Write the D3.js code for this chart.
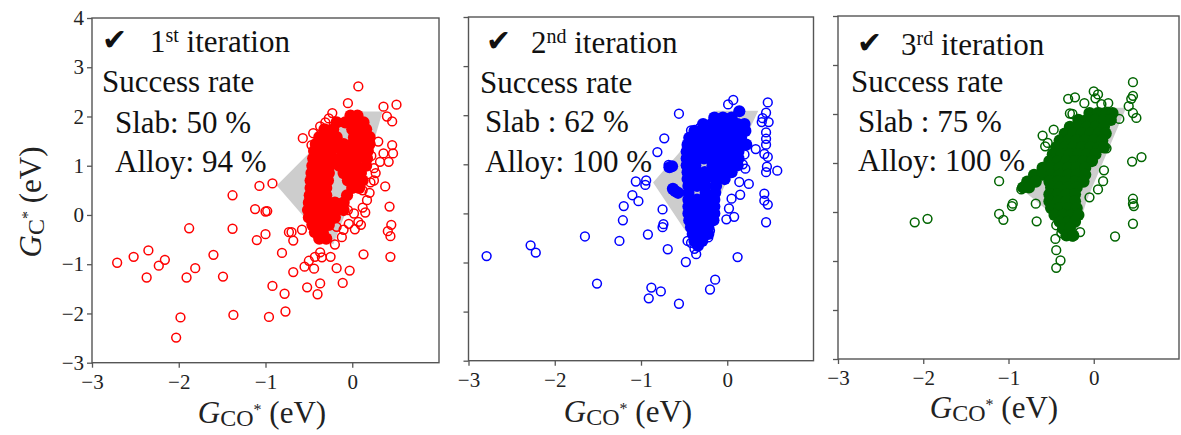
<!DOCTYPE html>
<html><head><meta charset="utf-8">
<script src="https://cdn.jsdelivr.net/npm/d3@7"></script>
<style>body{margin:0;background:#fff;} svg{display:block;}</style>
</head><body>
<svg id="c" width="1181" height="435"></svg>
<script>
const xTicks = [-3, -2, -1, 0];
const yTicks = [-3, -2, -1, 0, 1, 2, 3, 4];
const iterNums = ["1", "2", "3"];
const iterSups = ["st", "nd", "rd"];
const slabLabels = ["Slab: 50 %", "Slab : 62 %", "Slab : 75 %"];
const alloyLabels = ["Alloy: 94 %", "Alloy: 100 %", "Alloy: 100 %"];
const colors = ["#ff0000", "#0000ff", "#006400"];

const region1 = [[-0.87,0.6],[-0.02,2.1],[0.35,2.1],[0.25,1.5],[-0.22,-0.6],[-0.55,-0.05]];
const region2 = [[-0.86,0.63],[-0.13,2.09],[0.36,2.09],[0.2,1.5],[-0.33,-0.65],[-0.5,-0.32]];
const region3 = [[-0.87,0.5],[-0.03,2.13],[0.38,2.13],[-0.08,0.25],[-0.2,-0.42],[-0.45,-0.1]];

const open1 = [[-2.71,-0.97],[-2.52,-0.85],[-2.35,-0.72],[-2.37,-1.27],[-2.23,-1.03],[-2.16,-0.91],
[-1.88,-0.27],[-1.91,-1.27],[-1.81,-1.08],[-1.98,-2.08],[-2.03,-2.49],[-1.6,-0.81],[-1.49,-1.25],
[-1.38,0.40],[-1.38,-0.28],[-1.37,-2.03],[-1.07,0.59],[-0.92,0.64],[-1.12,0.12],[-1.0,0.07],[-0.98,0.08],
[-1.10,-0.51],[-1.0,-0.39],[-0.81,-0.77],[-0.96,-2.07],[-0.92,-1.44],[-0.78,-1.60],[-0.77,-1.96],
[-0.73,-0.35],[-0.70,-0.35],[-0.68,-0.52],[-0.68,-1.16],[-0.58,-0.30],[-0.55,-1.05],[-0.52,-1.47],
[-0.50,-0.93],[-0.44,-1.09],[-0.40,-1.61],[-0.37,-1.39],[-0.37,-0.76],[-0.43,-0.85],[-0.35,-0.86],
[-0.25,-0.85],[-0.18,-1.08],[-0.11,-1.38],[-0.03,-1.13],[0.13,-0.80],[0.44,-0.85],[0.44,-0.43],
[0.41,-0.33],[0.45,-0.2],[0.43,0.17],[0.38,0.58],[0.07,2.61],[-0.05,2.27],[0.36,2.2],[0.51,2.24],
[0.40,2.0],[0.46,1.90],[0.46,1.42],[0.47,1.25],[0.36,1.25],[0.30,1.49],[0.32,1.08],[0.42,1.08],
[0.27,0.85],[0.21,0.66],[0.17,0.30],[0.12,0.15],[-0.57,1.56],[-0.47,1.42],[-0.45,1.66],[-0.37,1.80],
[-0.27,1.96],[-0.23,2.07],[-0.31,1.88],[0.02,0.03],[0.07,-0.14],[-0.1,-0.3],[0.03,-0.29],[-0.04,-0.18],
[-0.18,-0.24],[0.2,0.45],[0.25,0.95],[0.22,1.2],[0.12,0.5],[-0.12,-0.45],[-0.2,-0.6],[0.15,0.05],
[0.25,0.7],[0.1,-0.2],[-0.05,0.1]];
const filled1 = [
[-0.02,2.02],[0.06,2.02],
[-0.18,1.88],[-0.08,1.88],[0.04,1.88],[0.13,1.88],
[-0.32,1.74],[-0.22,1.74],[0.0,1.74],[0.1,1.74],[0.16,1.74],
[-0.38,1.58],[-0.28,1.58],[-0.18,1.58],[0.02,1.58],[0.12,1.58],[0.2,1.58],
[-0.42,1.44],[-0.32,1.44],[-0.2,1.44],[-0.1,1.44],[0.0,1.44],[0.1,1.44],[0.2,1.44],
[-0.44,1.3],[-0.34,1.3],[-0.24,1.3],[-0.12,1.3],[-0.02,1.3],[0.08,1.3],[0.18,1.3],
[-0.45,1.15],[-0.35,1.15],[-0.25,1.15],[-0.14,1.15],[-0.04,1.15],[0.06,1.15],[0.17,1.15],
[-0.46,1.0],[-0.36,1.0],[-0.26,1.0],[-0.15,1.0],[-0.05,1.0],[0.05,1.0],[0.16,1.0],
[-0.47,0.85],[-0.37,0.85],[-0.27,0.85],[-0.1,0.85],[0.0,0.85],[0.1,0.85],
[-0.48,0.7],[-0.38,0.7],[-0.28,0.7],[-0.05,0.7],[0.05,0.7],[0.12,0.7],
[-0.48,0.55],[-0.38,0.55],[-0.3,0.55],[0.0,0.55],[0.08,0.55],
[-0.49,0.4],[-0.4,0.4],[-0.3,0.4],[-0.06,0.4],
[-0.5,0.25],[-0.4,0.25],[-0.3,0.25],[-0.2,0.25],[-0.1,0.25],
[-0.51,0.1],[-0.41,0.1],[-0.31,0.1],[-0.2,0.1],[-0.1,0.1],
[-0.5,-0.05],[-0.4,-0.05],[-0.3,-0.05],[-0.2,-0.05],
[-0.46,-0.2],[-0.37,-0.2],[-0.27,-0.2],
[-0.43,-0.35],[-0.34,-0.35],
[-0.38,-0.48],[-0.3,-0.48]];

const open2 = [[-2.79,-0.87],[-2.28,-0.65],[-2.22,-0.80],[-1.65,-0.47],[-1.51,-1.43],[-1.25,-0.56],
[-1.21,-0.14],[-1.20,0.15],[-1.10,0.37],[-1.03,0.25],[-1.06,0.65],[-0.94,0.67],[-0.95,0.58],[-0.92,-0.43],
[-0.88,-1.51],[-0.91,-1.73],[-0.77,-1.59],[-0.56,-1.84],[-0.75,0.08],[-0.74,-0.22],[-0.75,-0.28],
[-0.69,-0.73],[-0.81,1.25],[-0.73,1.53],[-0.56,2.03],[-0.68,0.99],[-0.48,-0.99],[-0.46,-0.56],
[-0.36,-0.83],[-0.22,-0.49],[-0.20,-1.55],[-0.14,-1.35],[0.12,-0.89],[-0.01,-0.12],[0.08,-0.07],
[0.02,0.10],[0.15,0.38],[0.14,0.64],[0.21,0.91],[0.07,2.31],[0.01,2.22],[0.47,2.26],[0.45,2.05],
[0.41,1.94],[0.48,1.86],[0.40,1.86],[0.45,1.52],[0.45,1.40],[0.33,1.31],[0.43,1.21],[0.47,1.15],
[0.58,0.87],[0.45,0.84],[0.43,0.40],[0.43,0.26],[0.47,0.18],[0.45,-0.18],[-0.42,1.69],[-0.32,1.74],
[-0.40,1.58],[-0.42,-0.6],[-0.38,-0.72],[0.2,1.2],[0.25,0.6],[0.05,0.3],[0.18,1.0],[0.45,1.65],
[0.46,0.95],[-0.2,-0.35]];
const filled2 = [
[0.14,2.08],
[-0.15,1.95],[-0.05,1.95],[0.05,1.95],
[-0.28,1.82],[-0.18,1.82],[-0.08,1.82],[0.02,1.82],[0.12,1.82],[0.2,1.82],
[-0.38,1.68],[-0.28,1.68],[-0.18,1.68],[-0.08,1.68],[0.02,1.68],[0.12,1.68],[0.21,1.68],
[-0.44,1.54],[-0.34,1.54],[-0.24,1.54],[-0.14,1.54],[-0.04,1.54],[0.06,1.54],[0.16,1.54],
[-0.46,1.4],[-0.36,1.4],[-0.26,1.4],[-0.16,1.4],[-0.06,1.4],[0.04,1.4],[0.14,1.4],[0.22,1.4],
[-0.47,1.26],[-0.37,1.26],[-0.27,1.26],[-0.17,1.26],[-0.07,1.26],[0.03,1.26],[0.13,1.26],
[-0.47,1.12],[-0.37,1.12],[-0.27,1.12],[-0.17,1.12],[-0.07,1.12],[0.03,1.12],[0.13,1.12],
[-0.47,0.98],[-0.37,0.98],[-0.17,0.98],[-0.07,0.98],[0.03,0.98],[0.12,0.98],
[-0.46,0.84],[-0.36,0.84],[-0.26,0.84],[-0.16,0.84],[-0.06,0.84],[0.05,0.84],
[-0.46,0.7],[-0.36,0.7],[-0.26,0.7],[-0.14,0.7],[-0.03,0.7],
[-0.45,0.56],[-0.35,0.56],[-0.25,0.56],[-0.13,0.56],
[-0.45,0.42],[-0.25,0.42],[-0.14,0.42],
[-0.45,0.28],[-0.35,0.28],[-0.25,0.28],[-0.15,0.28],
[-0.45,0.14],[-0.35,0.14],[-0.25,0.14],[-0.15,0.14],
[-0.45,0.0],[-0.35,0.0],[-0.25,0.0],[-0.15,0.0],
[-0.44,-0.14],[-0.34,-0.14],[-0.24,-0.14],[-0.16,-0.14],
[-0.42,-0.28],[-0.32,-0.28],[-0.22,-0.28],
[-0.4,-0.42],[-0.3,-0.42],[-0.22,-0.42],
[-0.38,-0.56],[-0.29,-0.56],
[-0.34,-0.66],
[-0.67,0.94],[-0.64,0.96],[-0.63,0.5],[-0.57,0.42],[-0.6,0.45]];

const open3 = [[-2.10,-0.21],[-1.95,-0.14],[-1.11,0.63],[-1.11,-0.04],[-1.06,-0.16],[-0.96,0.12],
[-0.95,0.17],[-0.67,-0.19],[-0.68,0.17],[-0.60,1.56],[-0.54,1.41],[-0.47,1.68],[-0.57,1.34],[-0.85,0.46],
[-0.44,-0.27],[-0.38,-0.43],[-0.45,-0.55],[-0.44,-0.78],[-0.39,-0.99],[-0.44,-1.14],[-0.16,-0.41],
[0.25,-0.50],[-0.30,2.31],[-0.22,2.34],[-0.11,2.22],[0.0,2.46],[0.02,2.32],[0.09,2.20],[0.17,2.22],
[-0.28,2.01],[0.46,2.65],[0.44,2.31],[0.46,2.37],[0.41,2.16],[0.46,2.02],[0.50,1.92],[0.45,1.03],
[0.56,1.12],[0.46,0.27],[0.46,0.17],[0.47,0.12],[0.46,-0.24],[0.11,0.63],[0.05,0.46],[0.12,0.85],
[-0.25,2.0],[-0.3,-0.4],[-0.25,-0.5],[0.05,2.4],[-0.05,0.3],[0.15,1.3],[0.3,1.9]];
const filled3 = [
[-0.05,2.02],[0.05,2.02],[0.15,2.02],[0.22,2.02],
[-0.18,1.88],[-0.08,1.88],[0.02,1.88],[0.12,1.88],[0.2,1.88],
[-0.28,1.74],[-0.18,1.74],[-0.08,1.74],[0.02,1.74],[0.12,1.74],
[-0.34,1.6],[-0.24,1.6],[-0.14,1.6],[-0.04,1.6],[0.06,1.6],[0.14,1.6],
[-0.4,1.46],[-0.3,1.46],[-0.2,1.46],[-0.1,1.46],[0.0,1.46],[0.1,1.46],
[-0.44,1.32],[-0.34,1.32],[-0.24,1.32],[-0.14,1.32],[-0.04,1.32],[0.06,1.32],[0.12,1.32],
[-0.48,1.18],[-0.38,1.18],[-0.28,1.18],[-0.18,1.18],[-0.08,1.18],[0.02,1.18],
[-0.52,1.04],[-0.42,1.04],[-0.32,1.04],[-0.22,1.04],[-0.12,1.04],[-0.02,1.04],
[-0.6,0.9],[-0.5,0.9],[-0.4,0.9],[-0.3,0.9],[-0.2,0.9],[-0.1,0.9],
[-0.7,0.76],[-0.6,0.76],[-0.5,0.76],[-0.4,0.76],[-0.3,0.76],[-0.2,0.76],[-0.1,0.76],
[-0.78,0.62],[-0.68,0.62],[-0.52,0.62],[-0.42,0.62],[-0.32,0.62],[-0.22,0.62],[-0.12,0.62],
[-0.83,0.5],[-0.76,0.5],[-0.5,0.5],[-0.4,0.5],[-0.3,0.5],[-0.2,0.5],
[-0.52,0.36],[-0.42,0.36],[-0.32,0.36],[-0.22,0.36],
[-0.52,0.22],[-0.42,0.22],[-0.32,0.22],[-0.22,0.22],
[-0.5,0.08],[-0.4,0.08],[-0.3,0.08],[-0.2,0.08],
[-0.46,-0.06],[-0.36,-0.06],[-0.26,-0.06],[-0.18,-0.06],
[-0.4,-0.2],[-0.3,-0.2],[-0.22,-0.2],
[-0.36,-0.34],[-0.28,-0.34],
[-0.32,-0.48],[-0.24,-0.48]];

const regions = [region1, region2, region3];
const opens = [open1, open2, open3];
const filleds = [filled1, filled2, filled3];

const frames = [
  {l: 92, r: 439, t: 18, b: 362.7, ylab: true, xlabX: 262, xlabY: 423},
  {l: 468.5, r: 813.5, t: 17, b: 360.7, ylab: false, xlabX: 628, xlabY: 422},
  {l: 838, r: 1179, t: 16, b: 359, ylab: false, xlabX: 994, xlabY: 418}
];
const textPos = [
  {cx: 102, ix: 150, iy: 52, sx: 102, sy: 92, ax: 115, slY: 133, alY: 172},
  {cx: 486, ix: 531, iy: 53, sx: 480, sy: 93, ax: 485, slY: 132, alY: 172},
  {cx: 857, ix: 901, iy: 55, sx: 851, sy: 92, ax: 858, slY: 132, alY: 171}
];

const svg = d3.select("#c");
const serif = "'Liberation Serif', 'Times New Roman', serif";
const FS = 31;

frames.forEach((f, i) => {
  const x = d3.scaleLinear().domain([-3, 1]).range([f.l, f.r]);
  const y = d3.scaleLinear().domain([-3, 4]).range([f.b, f.t]);
  const g = svg.append("g");

  g.append("path")
    .attr("d", d3.line().x(d => x(d[0])).y(d => y(d[1])).curve(d3.curveLinearClosed)(regions[i]))
    .attr("fill", "#cdcdcd").attr("stroke", "none");

  g.append("g").selectAll("circle").data(opens[i]).join("circle")
    .attr("cx", d => x(d[0])).attr("cy", d => y(d[1])).attr("r", 4.4)
    .attr("fill", "none").attr("stroke", colors[i]).attr("stroke-width", 1.5);
  g.append("g").selectAll("circle").data(filleds[i]).join("circle")
    .attr("cx", d => x(d[0])).attr("cy", d => y(d[1])).attr("r", 6.1)
    .attr("fill", colors[i]).attr("stroke", "none");

  g.append("rect").attr("x", f.l).attr("y", f.t).attr("width", f.r - f.l).attr("height", f.b - f.t)
    .attr("fill", "none").attr("stroke", "#555").attr("stroke-width", 1.4);

  const xa = g.append("g").attr("transform", `translate(0,${f.b})`)
    .call(d3.axisBottom(x).tickValues(xTicks).tickSize(5).tickPadding(6).tickFormat(d3.format("d")));
  const ya = g.append("g").attr("transform", `translate(${f.l},0)`)
    .call(d3.axisLeft(y).tickValues(yTicks).tickSize(5).tickPadding(3)
      .tickFormat(f.ylab ? d3.format("d") : () => ""));
  [xa, ya].forEach(a => {
    a.select(".domain").remove();
    a.selectAll("line").attr("stroke", "#555").attr("stroke-width", 1.3);
    a.selectAll("text").attr("font-family", serif).attr("font-size", 21).attr("fill", "#222");
  });

  const tp = textPos[i];
  g.append("text").attr("x", tp.cx).attr("y", tp.iy - 2)
    .attr("font-family", "'DejaVu Sans', sans-serif").attr("font-size", 30)
    .attr("fill", "#111").text("✔");
  const it = g.append("text").attr("x", tp.ix).attr("y", tp.iy)
    .attr("font-family", serif).attr("font-size", FS).attr("fill", "#111");
  it.append("tspan").text(iterNums[i]);
  it.append("tspan").attr("font-size", 20).attr("dy", -10).text(iterSups[i]);
  it.append("tspan").attr("dy", 10).text(" iteration");
  g.append("text").attr("x", tp.sx).attr("y", tp.sy).attr("font-family", serif).attr("font-size", FS)
    .attr("fill", "#111").text("Success rate");
  g.append("text").attr("x", tp.ax).attr("y", tp.slY).attr("font-family", serif).attr("font-size", FS)
    .attr("fill", "#111").text(slabLabels[i]);
  g.append("text").attr("x", tp.ax).attr("y", tp.alY).attr("font-family", serif).attr("font-size", FS)
    .attr("fill", "#111").text(alloyLabels[i]);

  const xl = g.append("text").attr("x", f.xlabX).attr("y", f.xlabY).attr("text-anchor", "middle")
    .attr("font-family", serif).attr("font-size", FS).attr("fill", "#222");
  xl.append("tspan").attr("font-style", "italic").text("G");
  xl.append("tspan").attr("font-size", 24).attr("dy", 3).text("CO");
  xl.append("tspan").attr("font-size", 16).attr("dy", -11).text("*");
  xl.append("tspan").attr("dy", 8).text(" (eV)");

  if (f.ylab) {
    const yl = svg.append("text").attr("transform", "translate(41,202) rotate(-90)")
      .attr("text-anchor", "middle").attr("font-family", serif).attr("font-size", FS).attr("fill", "#222");
    yl.append("tspan").attr("font-style", "italic").text("G");
    yl.append("tspan").attr("font-size", 24).attr("dy", 3).text("C");
    yl.append("tspan").attr("font-size", 16).attr("dy", -11).text("*");
    yl.append("tspan").attr("dy", 8).text("  (eV)");
  }
});
</script>
</body></html>
